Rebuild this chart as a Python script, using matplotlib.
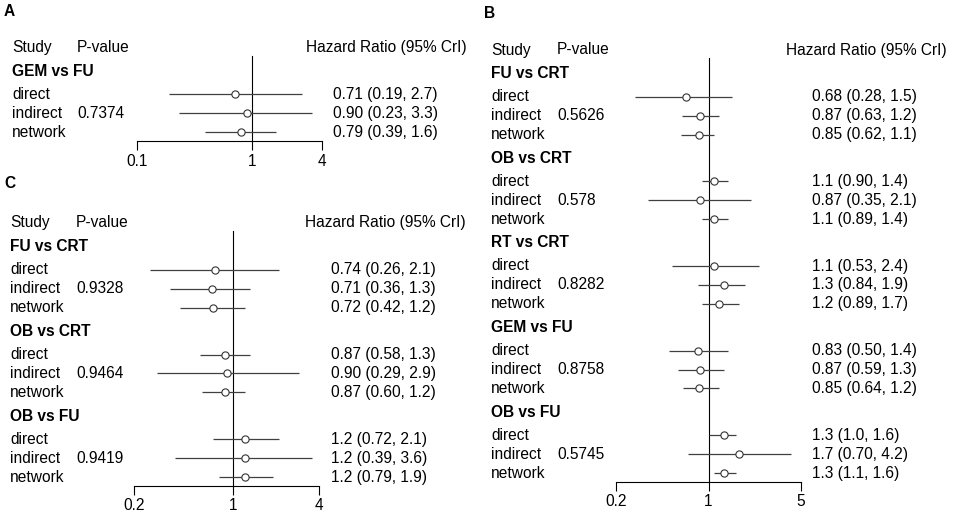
import matplotlib
matplotlib.use("Agg")
import matplotlib.pyplot as plt
from matplotlib.transforms import blended_transform_factory
from matplotlib.ticker import NullLocator

plt.rcParams['font.family'] = ['Liberation Sans', 'DejaVu Sans']

# ------------------------------- DATA ---------------------------------------
ROW_LABELS = ["direct", "indirect", "network"]

# Panel A
A_GROUPS = ["GEM vs FU"]
A_PVALUES = ["0.7374"]
A_EST = [[0.71, 0.90, 0.79]]
A_LOW = [[0.19, 0.23, 0.39]]
A_HIGH = [[2.7, 3.3, 1.6]]
A_TICKS = [0.1, 1, 4]

# Panel B
B_GROUPS = ["FU vs CRT", "OB vs CRT", "RT vs CRT", "GEM vs FU", "OB vs FU"]
B_PVALUES = ["0.5626", "0.578", "0.8282", "0.8758", "0.5745"]
B_EST = [[0.68, 0.87, 0.85], [1.1, 0.87, 1.1], [1.1, 1.3, 1.2],
         [0.83, 0.87, 0.85], [1.3, 1.7, 1.3]]
B_LOW = [[0.28, 0.63, 0.62], [0.90, 0.35, 0.89], [0.53, 0.84, 0.89],
         [0.50, 0.59, 0.64], [1.0, 0.70, 1.1]]
B_HIGH = [[1.5, 1.2, 1.1], [1.4, 2.1, 1.4], [2.4, 1.9, 1.7],
          [1.4, 1.3, 1.2], [1.6, 4.2, 1.6]]
B_TICKS = [0.2, 1, 5]

# Panel C
C_GROUPS = ["FU vs CRT", "OB vs CRT", "OB vs FU"]
C_PVALUES = ["0.9328", "0.9464", "0.9419"]
C_EST = [[0.74, 0.71, 0.72], [0.87, 0.90, 0.87], [1.2, 1.2, 1.2]]
C_LOW = [[0.26, 0.36, 0.42], [0.58, 0.29, 0.60], [0.72, 0.39, 0.79]]
C_HIGH = [[2.1, 1.3, 1.2], [1.3, 2.9, 1.2], [2.1, 3.6, 1.9]]
C_TICKS = [0.2, 1, 4]

# ------------------------------- LAYOUT -------------------------------------
W, H = 957, 522
FS = 11.2
LINE_COL = '#404040'

fig = plt.figure(figsize=(W / 100, H / 100), dpi=100)


def fmt(v):
    # two significant digits, R style
    return f"{v:.1f}" if v >= 1 else f"{v:.2f}"


def forest(letter, letter_xy, groups, pvals, est, low, high, ticks, box, cols):
    # box: (x of first tick, x of last tick, header y, axis y) in pixels
    x0, x1, y_top, y_axis = box

    # row positions (in row units, header at 0)
    y = 0.0
    group_y, row_y = [], []
    for _ in groups:
        y += 1.25
        group_y.append(y)
        y += 1.22
        rows = [y, y + 1, y + 2]
        row_y.append(rows)
        y += 2
    y_bottom = y + 0.47

    ax = fig.add_axes([x0 / W, 1 - y_axis / H, (x1 - x0) / W, (y_axis - y_top) / H])
    ax.set_xscale('log')
    ax.set_xlim(ticks[0], ticks[-1])
    ax.set_ylim(y_bottom, 0)
    ax.patch.set_visible(False)
    for s in ['top', 'left', 'right']:
        ax.spines[s].set_visible(False)
    ax.spines['bottom'].set_linewidth(0.8)
    ax.set_yticks([])
    ax.set_xticks(ticks)
    ax.set_xticklabels([str(t) for t in ticks])
    ax.xaxis.set_minor_locator(NullLocator())
    ax.tick_params(axis='x', direction='out', length=6.5, width=0.8, pad=2.5,
                   labelsize=FS)

    # reference line at HR = 1
    ax.plot([1, 1], [0.42, y_bottom], color='black', lw=0.8, clip_on=False)

    tr = blended_transform_factory(fig.transFigure, ax.transData)
    xs, xp, xh, xv = [c / W for c in cols]

    ax.text(xs, 0, "Study", transform=tr, fontsize=FS, va='center')
    ax.text(xp, 0, "P-value", transform=tr, fontsize=FS, va='center')
    ax.text(xh, 0, "Hazard Ratio (95% CrI)", transform=tr, fontsize=FS,
            va='center', ha='right')

    for g, name in enumerate(groups):
        ax.text(xs, group_y[g], name, transform=tr, fontsize=FS,
                fontweight='bold', va='center')
        ax.text(xp, row_y[g][1], pvals[g], transform=tr, fontsize=FS, va='center')
        for k in range(3):
            yy = row_y[g][k]
            ax.text(xs, yy, ROW_LABELS[k], transform=tr, fontsize=FS, va='center')
            ax.hlines(yy, low[g][k], high[g][k], color=LINE_COL, lw=0.9)
            ax.plot(est[g][k], yy, 'o', ms=5.2, mfc='white', mec='#333333',
                    mew=0.8, zorder=3)
            txt = f"{fmt(est[g][k])} ({fmt(low[g][k])}, {fmt(high[g][k])})"
            ax.text(xv, yy, txt, transform=tr, fontsize=FS, va='center')

    fig.text(letter_xy[0] / W, 1 - letter_xy[1] / H, letter, fontsize=FS,
             fontweight='bold', va='center', ha='left')


forest("A", (4, 12), A_GROUPS, A_PVALUES, A_EST, A_LOW, A_HIGH, A_TICKS,
       (137, 322, 47.7, 141), (12, 77, 467, 333))
forest("B", (484, 13), B_GROUPS, B_PVALUES, B_EST, B_LOW, B_HIGH, B_TICKS,
       (616, 801, 50, 482), (491, 557, 947, 812))
forest("C", (4, 183), C_GROUPS, C_PVALUES, C_EST, C_LOW, C_HIGH, C_TICKS,
       (134, 319, 223, 486), (10, 76, 466, 331))

fig.savefig("out.png", dpi=100)
